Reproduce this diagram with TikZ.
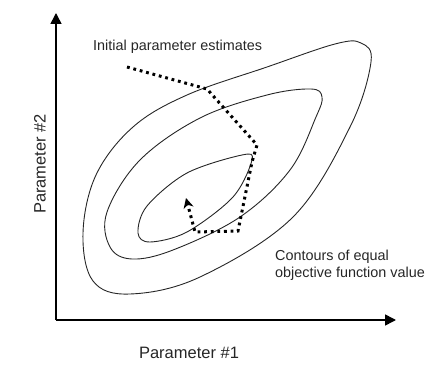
\documentclass[tikz,border=0pt]{standalone}
\usepackage{fontspec}
\setmainfont{Liberation Sans}
\usetikzlibrary{arrows.meta}
\begin{document}
\begin{tikzpicture}[x=1pt,y=-1pt,
  axis/.style={line width=1.6pt,-{Triangle[length=11pt,width=11pt]}},
  contour/.style={line width=0.9pt,black!85},
  search/.style={line width=3pt,dash pattern=on 2.8pt off 3.8pt,-{Stealth[length=10pt,width=10pt,inset=3pt]}},
  lbl/.style={inner sep=0pt,text=black!85,font=\fontsize{14.4}{17}\selectfont},
  axlbl/.style={inner sep=0pt,text=black!85,font=\fontsize{16.5}{19}\selectfont}]
\useasboundingbox (0,0) rectangle (432,369);
% axes
\coordinate (o) at (56,320);
\coordinate (ytop) at (56,13);
\coordinate (xend) at (396,320);
\draw[axis] (o) -- (ytop);
\draw[axis] (o) -- (xend);
\node[axlbl] (xl) at (189,353) {Parameter \#1};
\node[axlbl,rotate=90] (yl) at (40,164) {Parameter \#2};
% contours
\draw[contour] plot[smooth cycle,tension=0.6] coordinates {
 (371,62) (361,43) (335,44) (267,67) (187,95) (133,127) (96,175) (83,233)
 (93,281) (130,294) (200,277) (293,217) (350,127)};
\draw[contour] plot[smooth cycle,tension=0.6] coordinates {
 (322,97) (311,89) (267,95) (200,118) (140,160) (107,212) (110,247)
 (132,259) (173,250) (240,217) (290,170) (316,117)};
\draw[contour] plot[smooth cycle,tension=0.55] coordinates {
 (252,160) (242,155) (187,173) (147,206) (138,233) (150,242) (187,232)
 (233,197)};
% search path
\coordinate (p0) at (127,67);
\coordinate (p1) at (207,89);
\coordinate (p2) at (257,145);
\coordinate (p3) at (252,162);
\coordinate (p4) at (238,231);
\coordinate (p5) at (195,232);
\coordinate (p6) at (186,198);
\draw[search] (p0) -- (p1) -- (p2) -- (p3) -- (p4) -- (p5) -- (p6);
% labels
\node[lbl,anchor=west] (init) at (93,47) {Initial parameter estimates};
\node[lbl,anchor=west,align=left] (cont) at (275,265) {Contours of equal\\objective function value};
\end{tikzpicture}
\end{document}
